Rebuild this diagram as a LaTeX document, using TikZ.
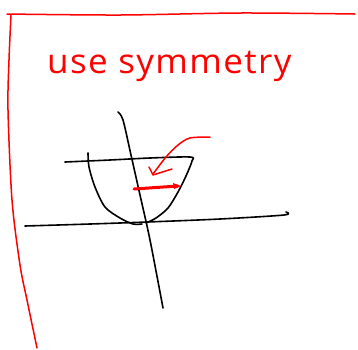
\documentclass[tikz,border=0pt]{standalone}
\usepackage{fontspec}
\setmainfont{Open Sans}
\begin{document}
\begin{tikzpicture}[x=1pt,y=-1pt,line cap=round,line join=round,
  ink/.style={black,line width=1.6pt},
  redink/.style={red,line width=1.5pt},
  redthick/.style={red,line width=3pt}]
\useasboundingbox (0,0) rectangle (358,349);
% red frame
\draw[redink] plot[smooth] coordinates {(7,14) (120,15) (240,13) (355,14)};
\draw[redink] plot[smooth] coordinates {(11,15) (9,60) (8,110) (12,200) (20,265) (27,300) (37,348)};
% title
\node[red,font=\fontsize{34}{40}\selectfont\addfontfeature{LetterSpace=4},anchor=base west,inner sep=0pt,xscale=1.03] (title) at (47,73) {use symmetry};
% vertical axis
\draw[ink] plot[smooth] coordinates {(118,112) (123,120) (131,155) (140,195) (150,240) (163,308)};
% horizontal axis
\draw[ink] plot[smooth] coordinates {(25,226) (90,224) (147,222) (220,219) (284,215) (286,212)};
% top line + right side of bowl
\draw[ink] plot[smooth] coordinates {(65,162) (110,160) (150,158) (190,157) (192,161) (186,176) (178,192) (168,208) (156,218) (146,223)};
% left side of bowl
\draw[ink] plot[smooth] coordinates {(88,153) (89,167) (95,187) (105,207) (120,218) (133,224) (142,224)};
% red curved arrow
\draw[redink] plot[smooth] coordinates {(210,137) (190,138) (178,145) (166,157) (153,174)};
\draw[redink] (149,167) -- (153,175) -- (172,169);
% red thick arrow
\draw[redthick] (134,189) -- (178,186);
\fill[red] (181,186) -- (173,183) -- (174,189) -- cycle;
\end{tikzpicture}
\end{document}
